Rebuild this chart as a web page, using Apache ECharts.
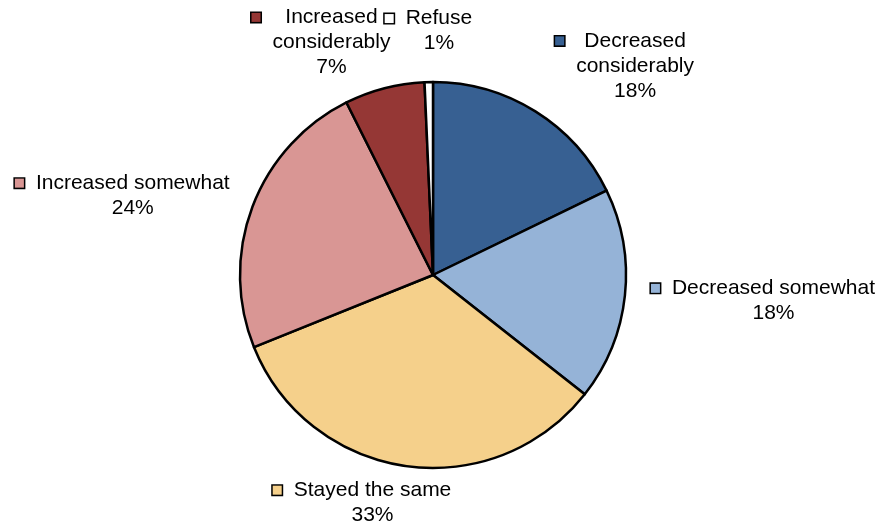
<!DOCTYPE html>
<html>
<head>
<meta charset="utf-8">
<script src="https://cdn.jsdelivr.net/npm/echarts@6/dist/echarts.min.js"></script>
<style>
  html, body { margin: 0; padding: 0; background: #fff; }
  #chart { width: 883px; height: 525px; }
</style>
</head>
<body>
<div id="chart"></div>
<script>
// slices, clockwise from 12 o'clock
const categories = ['Decreased\nconsiderably', 'Decreased somewhat', 'Stayed the same', 'Increased somewhat', 'Increased\nconsiderably', 'Refuse'];
const shares = [17.8, 17.8, 33.3, 23.7, 6.7, 0.7];
const colors = ['#376092', '#95B3D7', '#F5D08B', '#D99694', '#953735', '#FFFFFF'];

const CX = 433, CY = 275, RADIUS = 193;
// small hand tweaks so labels sit like the original best-fit placement
const labelNudge = [[44, -1], [11, 1], [-29, -3], [-15, 3], [-42, 5], [1, -11]];

const total = shares.reduce((a, b) => a + b, 0);

const rich = {
  g: { width: 12, align: 'left' },
  s: { width: 21, align: 'left' }
};
colors.forEach((c, i) => {
  rich['k' + i] = {
    width: 9, height: 9, align: 'left',
    backgroundColor: c, borderColor: '#000', borderWidth: 1.5
  };
});

const chart = echarts.init(document.getElementById('chart'));
chart.setOption({
  animation: false,
  series: [{
    type: 'pie',
    center: [CX, CY],
    radius: RADIUS,
    startAngle: 90,
    clockwise: true,
    avoidLabelOverlap: false,
    emphasis: { disabled: true },
    itemStyle: { borderColor: '#000', borderWidth: 2.5 },
    labelLine: { show: false },
    label: {
      show: true,
      position: 'outside',
      color: '#000',
      fontFamily: 'Liberation Sans, Arial, sans-serif',
      fontSize: 21,
      lineHeight: 25,
      align: 'center',
      rich: rich,
      formatter: function (p) {
        const i = p.dataIndex;
        const parts = categories[i].split('\n');
        let s = '{k' + i + '|}{g|}' + parts[0];
        for (let j = 1; j < parts.length; j++) s += '\n{s|}' + parts[j];
        s += '\n{s|}' + Math.round(shares[i]) + '%';
        return s;
      }
    },
    labelLayout: function (p) {
      const i = p.dataIndex;
      let before = 0;
      for (let j = 0; j < i; j++) before += shares[j];
      const mid = (before + shares[i] / 2) / total * Math.PI * 2;
      const ux = Math.sin(mid), uy = -Math.cos(mid);
      const r = RADIUS + 15;
      const w = p.labelRect.width, h = p.labelRect.height;
      return {
        x: CX + r * ux + w / 2 * ux + labelNudge[i][0],
        y: CY + r * uy + h / 2 * uy + labelNudge[i][1],
        align: 'center',
        verticalAlign: 'middle'
      };
    },
    data: categories.map((name, i) => ({
      name: name,
      value: shares[i],
      itemStyle: { color: colors[i] }
    }))
  }]
});
</script>
</body>
</html>
